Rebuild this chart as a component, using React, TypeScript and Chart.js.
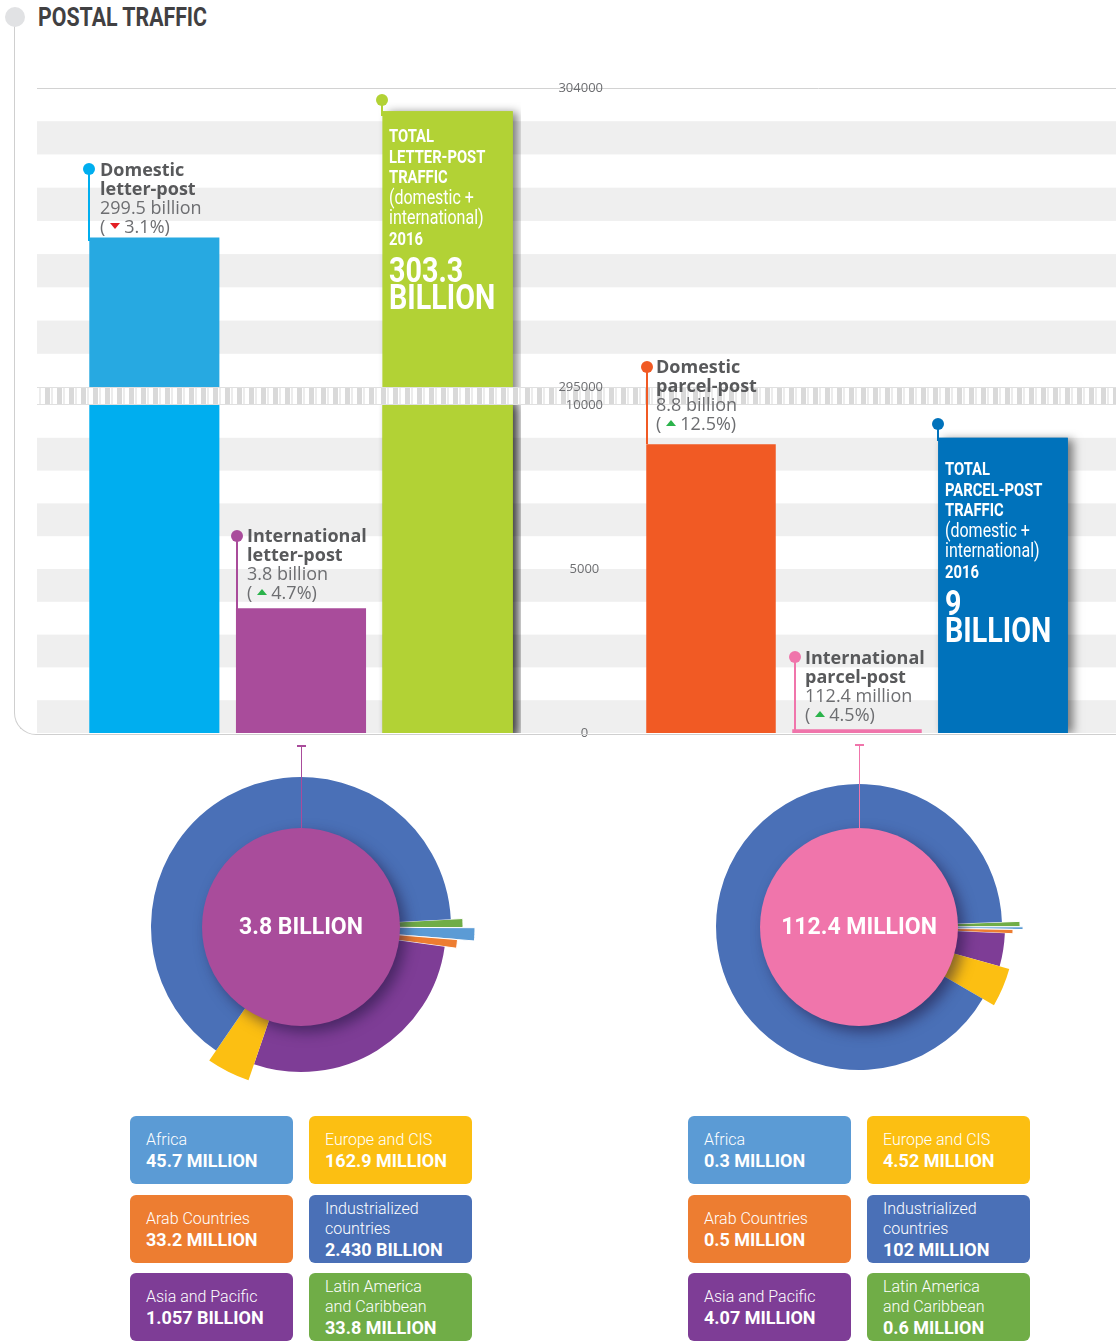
import React, { useEffect, useRef } from 'react';
import { Chart, registerables } from 'chart.js';
Chart.register(...registerables);

// ---------------- data ----------------
const letterCategories = ['Domestic letter-post', 'International letter-post', 'Total letter-post'];
const letterValues = [299500, 3800, 303300]; // million items
const parcelCategories = ['Domestic parcel-post', 'International parcel-post', 'Total parcel-post'];
const parcelValues = [8800, 112.4, 9000]; // million items
const upperTickValues = [295000, 304000];
const lowerTickValues = [0, 5000, 10000];

const regionNames = ['Latin America and Caribbean', 'Africa', 'Arab Countries', 'Asia and Pacific', 'Europe and CIS', 'Industrialized countries'];
const regionTileNames = ['Latin America\nand Caribbean', 'Africa', 'Arab Countries', 'Asia and Pacific', 'Europe and CIS', 'Industrialized\ncountries'];
const letterRegionValues = [33.8, 45.7, 33.2, 1057, 162.9, 2430];
const parcelRegionValues = [0.6, 0.3, 0.5, 4.07, 4.52, 102];
const letterRegionLabels = ['33.8 MILLION', '45.7 MILLION', '33.2 MILLION', '1.057 BILLION', '162.9 MILLION', '2.430 BILLION'];
const parcelRegionLabels = ['0.6 MILLION', '0.3 MILLION', '0.5 MILLION', '4.07 MILLION', '4.52 MILLION', '102 MILLION'];
const tileOrder = [1, 4, 2, 5, 3, 0];

// ---------------- styles ----------------
const regionColors = ['#70ad47', '#5b9bd5', '#ed7d31', '#7e3d96', '#fcbf12', '#4a70b7'];
const letterSliceRadius = [162, 174, 157, 145, 162, 150];
const parcelSliceRadius = [161, 164, 154, 146, 156, 143];
const letterColors = ['#00aeef', '#a94c9b', '#b2d235'];
const letterUpperColors = ['#27a9e1', '#a94c9b', '#b2d235'];
const parcelColors = ['#f15a24', '#f075ab', '#0072bb'];

const UPPER_MIN = 294458;
const UPPER_MAX = 304000;
const BREAK_VALUE = 295000;
const LOWER_MAX = 10000;
const STRIPE_LEFT = 37;
const COND = 'Roboto, "Open Sans", sans-serif';

function makeY(min: number, max: number, weight: number, ticks: number[], show: boolean, axisWidth: number) {
  return {
    type: 'linear',
    position: 'left',
    stack: 'main',
    stackWeight: weight,
    min,
    max,
    bounds: 'data',
    grid: { display: false, drawTicks: false },
    border: { display: false },
    ticks: {
      display: show,
      z: 1,
      autoSkip: false,
      padding: 35,
      crossAlign: 'center',
      color: '#6d6e71',
      font: { family: '"Open Sans", sans-serif', size: 13 },
      callback: (v: any) => String(v),
    },
    afterBuildTicks: (s: any) => {
      s.ticks = ticks.map((v) => ({ value: v }));
    },
    afterFit: (s: any) => {
      s.width = axisWidth;
      s.paddingTop = 0;
      s.paddingBottom = 0;
      s.paddingLeft = 0;
      s.paddingRight = 0;
    },
  };
}

function BarPanel(props: {
  categories: string[];
  values: number[];
  colors: string[];
  upperColors: string[];
  showAxis: boolean;
  pageLeft: number;
  width: number;
  padLeft: number;
  padRight: number;
  axisWidth: number;
  shadowIndex: number;
}) {
  const ref = useRef<HTMLCanvasElement>(null);
  useEffect(() => {
    const { pageLeft } = props;
    const bgPlugin = {
      id: 'bg',
      beforeDatasetsDraw(chart: any) {
        const ctx = chart.ctx;
        const hi = chart.scales.yHigh;
        const lo = chart.scales.yLow;
        const x0 = Math.max(0, STRIPE_LEFT - pageLeft);
        const x1 = chart.width;
        ctx.save();
        ctx.fillStyle = '#efefef';
        for (let v = 0; v < LOWER_MAX; v += 2000) {
          const a = lo.getPixelForValue(v + 1000);
          const b = lo.getPixelForValue(v);
          ctx.fillRect(x0, a, x1 - x0, b - a);
        }
        for (let v = 296000; v < UPPER_MAX; v += 2000) {
          const a = hi.getPixelForValue(v + 1000);
          const b = hi.getPixelForValue(v);
          ctx.fillRect(x0, a, x1 - x0, b - a);
        }
        ctx.strokeStyle = '#d2d2d2';
        ctx.lineWidth = 1;
        const yt = Math.round(hi.getPixelForValue(UPPER_MAX)) + 0.5;
        ctx.beginPath();
        ctx.moveTo(x0, yt);
        ctx.lineTo(x1, yt);
        ctx.stroke();
        // drop shadow behind the total bar
        ctx.save();
        ctx.beginPath();
        ctx.rect(0, 0, chart.width, chart.chartArea.bottom);
        ctx.clip();
        chart.data.datasets.forEach((ds: any, di: number) => {
          const meta = chart.getDatasetMeta(di);
          const el = meta.data[props.shadowIndex];
          if (!el || ds.data[props.shadowIndex] == null) return;
          const p = el.getProps(['x', 'y', 'base', 'width']);
          if (!isFinite(p.y) || !isFinite(p.base)) return;
          ctx.save();
          ctx.shadowColor = 'rgba(0,0,0,0.5)';
          ctx.shadowBlur = 9;
          ctx.shadowOffsetX = 5;
          ctx.shadowOffsetY = 1;
          ctx.fillStyle = ds.backgroundColor[props.shadowIndex];
          ctx.fillRect(p.x - p.width / 2, p.y, p.width, p.base - p.y);
          ctx.restore();
        });
        ctx.restore();
        ctx.restore();
      },
      afterDatasetsDraw(chart: any) {
        const ctx = chart.ctx;
        const hi = chart.scales.yHigh;
        const lo = chart.scales.yLow;
        const x0 = Math.max(0, STRIPE_LEFT - pageLeft);
        const x1 = chart.width;
        const yTop = hi.getPixelForValue(BREAK_VALUE);
        const yBot = lo.getPixelForValue(LOWER_MAX);
        ctx.save();
        ctx.fillStyle = '#ffffff';
        ctx.fillRect(x0, yTop, x1 - x0, yBot - yTop);
        ctx.fillStyle = '#d9d9d9';
        for (let px = STRIPE_LEFT + 8; px < 1116; px += 12) {
          const cx = px - pageLeft;
          if (cx < x0 - 5 || cx > x1) continue;
          ctx.fillRect(cx, yTop + 1, 5, yBot - yTop - 2);
        }
        ctx.fillStyle = '#ececec';
        for (let px = STRIPE_LEFT + 2; px < 1116; px += 12) {
          const cx = px - pageLeft;
          if (cx < x0 - 5 || cx > x1) continue;
          ctx.fillRect(cx, yTop + 1, 2, yBot - yTop - 2);
        }
        ctx.strokeStyle = '#e0e0e0';
        ctx.lineWidth = 1;
        ctx.beginPath();
        ctx.moveTo(x0, Math.round(yTop) + 0.5);
        ctx.lineTo(x1, Math.round(yTop) + 0.5);
        ctx.moveTo(x0, Math.round(yBot) - 0.5);
        ctx.lineTo(x1, Math.round(yBot) - 0.5);
        ctx.stroke();
        ctx.restore();
      },
    };
    const chart = new Chart(ref.current as HTMLCanvasElement, {
      type: 'bar',
      data: {
        labels: props.categories,
        datasets: [
          {
            data: props.values.map((v) => (v >= UPPER_MIN ? v : null)),
            yAxisID: 'yHigh',
            backgroundColor: props.upperColors,
          },
          {
            data: props.values.map((v) => Math.min(v, LOWER_MAX)),
            yAxisID: 'yLow',
            backgroundColor: props.colors,
          },
        ],
      } as any,
      options: {
        responsive: false,
        animation: false,
        events: [],
        layout: { padding: { left: props.padLeft, right: props.padRight, top: 88, bottom: 12 } },
        plugins: { legend: { display: false }, tooltip: { enabled: false } },
        datasets: { bar: { grouped: false, categoryPercentage: 0.887, barPercentage: 1, borderWidth: 0 } },
        scales: {
          x: { type: 'category', display: false },
          yLow: makeY(0, LOWER_MAX, 328, lowerTickValues, props.showAxis, props.axisWidth),
          yHigh: makeY(UPPER_MIN, UPPER_MAX, 317, upperTickValues, props.showAxis, props.axisWidth),
        },
      } as any,
      plugins: [bgPlugin],
    });
    return () => chart.destroy();
  }, []);
  return (
    <canvas
      ref={ref}
      width={props.width}
      height={745}
      style={{ position: 'absolute', left: props.pageLeft, top: 0, width: props.width, height: 745, zIndex: 1 }}
    />
  );
}

function RegionPie(props: {
  values: number[];
  radii: number[];
  rotation: number;
  centerColor: string;
  centerText: string;
  cx: number;
  cy: number;
}) {
  const ref = useRef<HTMLCanvasElement>(null);
  const size = 400;
  useEffect(() => {
    const piePlugin = {
      id: 'pieDeco',
      beforeDatasetsDraw(chart: any) {
        const meta = chart.getDatasetMeta(0);
        meta.data.forEach((arc: any, i: number) => {
          arc.outerRadius = props.radii[i];
        });
      },
      afterDatasetsDraw(chart: any) {
        const ctx = chart.ctx;
        const arc = chart.getDatasetMeta(0).data[0];
        const x = arc.x;
        const y = arc.y;
        ctx.save();
        ctx.shadowColor = 'rgba(30,20,60,0.55)';
        ctx.shadowBlur = 14;
        ctx.shadowOffsetX = 6;
        ctx.shadowOffsetY = 6;
        ctx.fillStyle = props.centerColor;
        ctx.beginPath();
        ctx.arc(x, y, 99, 0, Math.PI * 2);
        ctx.fill();
        ctx.restore();
        ctx.save();
        ctx.fillStyle = '#ffffff';
        ctx.font = 'bold 23px Roboto, "Open Sans", sans-serif';
        ctx.textAlign = 'center';
        ctx.textBaseline = 'middle';
        ctx.fillText(props.centerText, x, y + 1);
        ctx.restore();
      },
    };
    const chart = new Chart(ref.current as HTMLCanvasElement, {
      type: 'pie',
      data: {
        labels: regionNames,
        datasets: [
          {
            data: props.values,
            backgroundColor: regionColors,
            borderColor: '#ffffff',
            borderWidth: [1, 1, 1, 0, 0, 0],
          },
        ],
      },
      options: {
        responsive: false,
        animation: false,
        events: [],
        rotation: props.rotation,
        layout: { padding: 0 },
        plugins: { legend: { display: false }, tooltip: { enabled: false } },
      } as any,
      plugins: [piePlugin],
    });
    return () => chart.destroy();
  }, []);
  return (
    <canvas
      ref={ref}
      width={size}
      height={size}
      style={{ position: 'absolute', left: props.cx - size / 2, top: props.cy - size / 2, width: size, height: size }}
    />
  );
}

function Tri({ up }: { up: boolean }) {
  return (
    <span
      style={{
        display: 'inline-block',
        width: 0,
        height: 0,
        borderLeft: '5px solid transparent',
        borderRight: '5px solid transparent',
        ...(up ? { borderBottom: '6px solid #2bb34b' } : { borderTop: '6px solid #e31e24' }),
        margin: '0 4px 0 5px',
        verticalAlign: 'middle',
        position: 'relative',
        top: -2,
      }}
    />
  );
}

function Marker({ color, dx, dy, end }: { color: string; dx: number; dy: number; end: number }) {
  return (
    <>
      <div style={{ position: 'absolute', left: dx - 0.75, top: dy, width: 1.5, height: end - dy, background: color, zIndex: 3 }} />
      <div style={{ position: 'absolute', left: dx - 6, top: dy - 6, width: 12, height: 12, borderRadius: '50%', background: color, zIndex: 3 }} />
    </>
  );
}

function Note(props: { x: number; top: number; title: string[]; value: string; change: number }) {
  return (
    <div
      style={{
        position: 'absolute',
        left: props.x,
        top: props.top,
        fontFamily: '"Open Sans", sans-serif',
        fontSize: 18,
        lineHeight: '19px',
        whiteSpace: 'nowrap',
        zIndex: 3,
      }}
    >
      <div style={{ fontWeight: 700, color: '#58595b' }}>{props.title[0]}</div>
      <div style={{ fontWeight: 700, color: '#58595b' }}>{props.title[1]}</div>
      <div style={{ color: '#6d6e71' }}>{props.value}</div>
      <div style={{ color: '#6d6e71' }}>
        (<Tri up={props.change > 0} />
        {Math.abs(props.change)}%)
      </div>
    </div>
  );
}

function TotalText(props: { x: number; top: number; kind: string; value: string }) {
  const line = (t: string, bold: boolean) => (
    <div style={{ fontWeight: bold ? 700 : 400, fontSize: bold ? 18 : 19.5, lineHeight: '20.6px' }}>{t}</div>
  );
  return (
    <div
      style={{
        position: 'absolute',
        left: props.x,
        top: props.top,
        color: '#ffffff',
        fontFamily: COND,
        whiteSpace: 'nowrap',
        transform: 'scaleX(0.82)',
        transformOrigin: 'left top',
        zIndex: 3,
      }}
    >
      {line('TOTAL', true)}
      {line(props.kind, true)}
      {line('TRAFFIC', true)}
      {line('(domestic +', false)}
      {line('international)', false)}
      {line('2016', true)}
      <div style={{ marginTop: 7, fontWeight: 700, fontSize: 35, lineHeight: '27px' }}>{props.value}</div>
      <div style={{ fontWeight: 700, fontSize: 35, lineHeight: '27px' }}>BILLION</div>
    </div>
  );
}

function Connector({ x, top, bottom, color }: { x: number; top: number; bottom: number; color: string }) {
  return (
    <>
      <div style={{ position: 'absolute', left: x - 4, top, width: 9, height: 1.5, background: color, zIndex: 3 }} />
      <div style={{ position: 'absolute', left: x - 0.5, top, width: 1.2, height: bottom - top, background: color, zIndex: 3 }} />
    </>
  );
}

function Tiles({ left, labels }: { left: number; labels: string[] }) {
  const cols = [left, left + 179];
  const rows = [1116, 1195, 1273];
  return (
    <>
      {tileOrder.map((ri, k) => (
        <div
          key={k}
          style={{
            position: 'absolute',
            left: cols[k % 2],
            top: rows[Math.floor(k / 2)],
            width: 163,
            height: 68,
            boxSizing: 'border-box',
            borderRadius: 6,
            background: regionColors[ri],
            color: '#ffffff',
            display: 'flex',
            flexDirection: 'column',
            justifyContent: 'center',
            paddingLeft: 16,
            fontFamily: 'Roboto, "Open Sans", sans-serif',
            whiteSpace: 'nowrap',
          }}
        >
          {regionTileNames[ri].split('\n').map((t, j) => (
            <div key={j} style={{ fontWeight: 300, fontSize: 16, lineHeight: '20px' }}>
              {t}
            </div>
          ))}
          <div style={{ fontWeight: 700, fontSize: 18, lineHeight: '21px' }}>{labels[ri]}</div>
        </div>
      ))}
    </>
  );
}

export default function App() {
  return (
    <div
      style={{
        position: 'absolute',
        left: 0,
        top: 0,
        width: 1116,
        height: 1341,
        background: '#ffffff',
        overflow: 'hidden',
      }}
    >
      {/* frame */}
      <div
        style={{
          position: 'absolute',
          left: 14,
          top: 17,
          width: 1102,
          height: 718,
          boxSizing: 'border-box',
          borderLeft: '1.5px solid #cfcfcf',
          borderBottom: '1.5px solid #cfcfcf',
          borderBottomLeftRadius: 22,
          zIndex: 2,
        }}
      />
      <div style={{ position: 'absolute', left: 5, top: 7, width: 20, height: 20, borderRadius: '50%', background: '#e1e2e4', zIndex: 2 }} />
      <div
        style={{
          position: 'absolute',
          left: 38,
          top: 2,
          fontFamily: COND,
          fontWeight: 700,
          fontSize: 26,
          lineHeight: '30px',
          color: '#414042',
          whiteSpace: 'nowrap',
          transform: 'scaleX(0.82)',
          transformOrigin: 'left top',
        }}
      >
        POSTAL TRAFFIC
      </div>

      <BarPanel
        categories={letterCategories}
        values={letterValues}
        colors={letterColors}
        upperColors={letterUpperColors}
        showAxis={false}
        pageLeft={0}
        width={521}
        padLeft={81}
        padRight={0}
        axisWidth={0}
        shadowIndex={2}
      />
      <BarPanel
        categories={parcelCategories}
        values={parcelValues}
        colors={parcelColors}
        upperColors={parcelColors}
        showAxis={true}
        pageLeft={521}
        width={595}
        padLeft={0}
        padRight={40}
        axisWidth={117}
        shadowIndex={2}
      />

      <Marker color="#00aeef" dx={89} dy={169} end={241} />
      <Note x={100} top={160} title={['Domestic', 'letter-post']} value="299.5 billion" change={-3.1} />
      <Marker color="#a94c9b" dx={237} dy={536} end={609} />
      <Note x={247} top={526} title={['International', 'letter-post']} value="3.8 billion" change={4.7} />
      <Marker color="#b2d235" dx={382} dy={100} end={116} />
      <TotalText x={389} top={126} kind="LETTER-POST" value="303.3" />

      <Marker color="#f15a24" dx={647} dy={367} end={444} />
      <Note x={656} top={357} title={['Domestic', 'parcel-post']} value="8.8 billion" change={12.5} />
      <Marker color="#f075ab" dx={795} dy={657} end={731} />
      <Note x={805} top={648} title={['International', 'parcel-post']} value="112.4 million" change={4.5} />
      <Marker color="#0072bb" dx={938} dy={424} end={441} />
      <TotalText x={945} top={459} kind="PARCEL-POST" value="9" />

      <RegionPie values={letterRegionValues} radii={letterSliceRadius} rotation={87} centerColor="#a94c9b" centerText="3.8 BILLION" cx={301} cy={927} />
      <RegionPie values={parcelRegionValues} radii={parcelSliceRadius} rotation={88} centerColor="#f075ab" centerText="112.4 MILLION" cx={859} cy={927} />
      <Connector x={301} top={745} bottom={829} color="#a94c9b" />
      <Connector x={859} top={744} bottom={829} color="#f075ab" />

      <Tiles left={130} labels={letterRegionLabels} />
      <Tiles left={688} labels={parcelRegionLabels} />
    </div>
  );
}
